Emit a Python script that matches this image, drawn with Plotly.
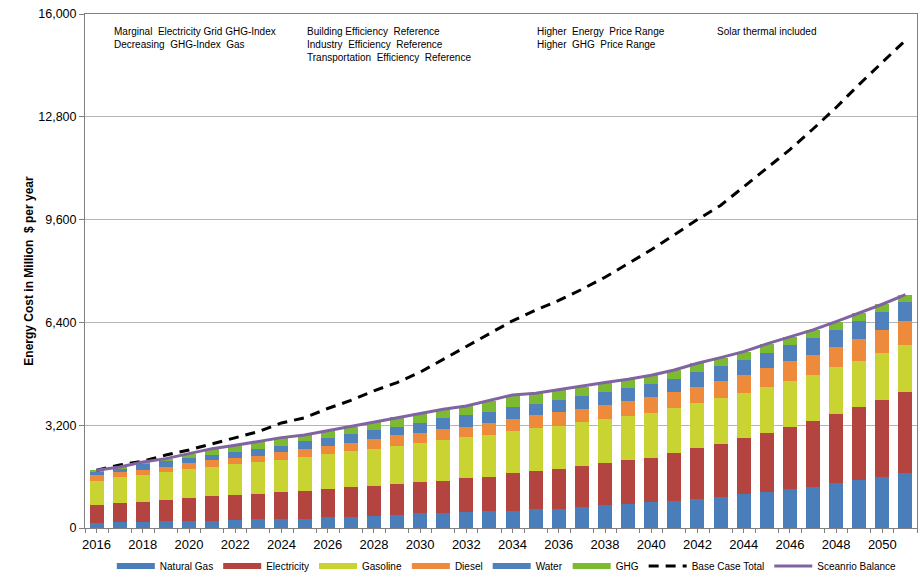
import plotly.graph_objects as go

years = list(range(2016, 2052))

natural_gas = [166, 197, 197, 208, 208, 208, 239, 270, 291, 291, 332, 353, 363, 394, 457, 467, 488, 519,
               540, 581, 602, 654, 706, 758, 799, 851, 913, 976, 1048, 1121, 1214, 1287, 1391, 1484, 1598, 1723]
electricity = [540, 571, 613, 664, 726, 788, 799, 789, 830, 872, 893, 913, 955, 987, 975, 1007, 1079, 1080,
               1173, 1194, 1235, 1287, 1308, 1360, 1391, 1485, 1568, 1650, 1744, 1848, 1921, 2045, 2169, 2294, 2398, 2512]
gasoline = [768, 810, 840, 882, 893, 904, 955, 986, 997, 1058, 1069, 1132, 1142, 1172, 1225, 1266, 1267, 1297,
            1308, 1349, 1350, 1349, 1380, 1370, 1391, 1391, 1401, 1422, 1422, 1422, 1443, 1432, 1443, 1433, 1464, 1464]
diesel = [166, 166, 167, 156, 187, 207, 197, 207, 238, 239, 270, 259, 301, 333, 312, 332, 322, 374,
          384, 384, 415, 416, 436, 467, 488, 518, 519, 530, 561, 581, 612, 634, 644, 685, 695, 747]
water = [125, 104, 166, 166, 166, 166, 177, 218, 208, 239, 239, 260, 280, 269, 311, 364, 363, 353,
         373, 364, 384, 415, 415, 405, 405, 395, 446, 456, 467, 478, 498, 529, 519, 560, 582, 592]
ghg = [30, 52, 72, 83, 135, 197, 207, 218, 249, 197, 228, 239, 249, 291, 291, 259, 280, 342,
       364, 322, 311, 280, 281, 270, 280, 280, 281, 270, 249, 280, 249, 239, 259, 228, 228, 228]
base_case_total = [1800, 1960, 2080, 2270, 2430, 2620, 2830, 3000, 3270, 3430, 3720, 3970, 4270, 4526, 4850,
                   5250, 5660, 6050, 6450, 6780, 7085, 7430, 7805, 8230, 8660, 9130, 9600, 10040, 10620,
                   11200, 11780, 12420, 13090, 13810, 14510, 15180]
scenario_balance = [a + b + c + d + e + f for a, b, c, d, e, f in
                    zip(natural_gas, electricity, gasoline, diesel, water, ghg)]

y_ticks = [0, 3200, 6400, 9600, 12800, 16000]
x_ticks = list(range(2016, 2051, 2))

bar_series = [
    ("Natural Gas", natural_gas, "#4a7ebb"),
    ("Electricity", electricity, "#b3443f"),
    ("Gasoline", gasoline, "#c9d332"),
    ("Diesel", diesel, "#ee8a3c"),
    ("Water", water, "#4f81bd"),
    ("GHG", ghg, "#7cbb31"),
]

fig = go.Figure()
for name, vals, col in bar_series:
    fig.add_trace(go.Bar(x=years, y=vals, name=name, showlegend=False, legendgroup=name,
                         marker=dict(color=col, line=dict(width=0))))

# legend entries drawn as wide bars like the reference legend
for name, vals, col in bar_series:
    fig.add_trace(go.Scatter(x=[None], y=[None], name=name, legendgroup=name, mode="lines",
                             line=dict(color=col, width=6)))

fig.add_trace(go.Scatter(x=years, y=base_case_total, name="Base Case Total", mode="lines",
                         line=dict(color="black", width=3, dash="10px,7px")))
fig.add_trace(go.Scatter(x=years, y=scenario_balance, name="Sceanrio Balance", mode="lines",
                         line=dict(color="#8064a2", width=3)))

font_family = "Liberation Sans, Arial, sans-serif"

fig.update_layout(
    width=922, height=573,
    barmode="stack", bargap=0.39,
    margin=dict(l=85, r=5, t=14, b=45, autoexpand=False),
    plot_bgcolor="white", paper_bgcolor="white",
    font=dict(family=font_family, size=11, color="black"),
    showlegend=True,
    legend=dict(orientation="h", x=0.507, xanchor="center", y=-0.074, yanchor="middle",
                font=dict(size=10), traceorder="normal", itemwidth=38,
                tracegroupgap=0, bgcolor="rgba(0,0,0,0)"),
)

fig.update_xaxes(
    range=[2015.5, 2051.5], tickvals=x_ticks, ticktext=[str(v) for v in x_ticks],
    tickfont=dict(size=13, family=font_family, color="black"),
    showline=True, linecolor="#808080", linewidth=1, mirror=True,
    ticks="outside", ticklen=4, tickcolor="#808080",
    minor=dict(tick0=2015.5, dtick=1, ticks="outside", ticklen=4, tickcolor="#808080"),
    showgrid=False, zeroline=False, automargin=False,
    tickprefix="<b>", ticksuffix="</b>",
)
fig.update_yaxes(
    range=[0, 16000], tickvals=y_ticks, tickformat=",",
    tickfont=dict(size=12.5, family=font_family, color="black"),
    showline=True, linecolor="#808080", linewidth=1, mirror=True,
    ticks="outside", ticklen=5, tickcolor="#808080",
    showgrid=True, gridcolor="#b4b4b4", gridwidth=1, zeroline=False, automargin=False,
    title=dict(text="<b>Energy Cost in Million  $ per year</b>", font=dict(size=12), standoff=2),
)

def px_x(px):
    return (px - 85) / 832.0

def px_y(py):
    return (528 - py) / 514.0

notes = [
    (112, "Marginal  Electricity Grid GHG-Index<br>Decreasing  GHG-Index  Gas"),
    (305, "Building Efficiency  Reference<br>Industry  Efficiency  Reference<br>Transportation  Efficiency  Reference"),
    (535, "Higher  Energy  Price Range<br>Higher  GHG  Price Range"),
    (715, "Solar thermal included"),
]
for px, txt in notes:
    fig.add_annotation(x=px_x(px), y=px_y(24), xref="paper", yref="paper", text=txt,
                       showarrow=False, xanchor="left", yanchor="top", align="left",
                       font=dict(size=10, family=font_family, color="black"))

fig.write_html("out.html", config={"displayModeBar": False},
               post_script="document.body.style.margin='0';document.body.style.padding='0';")
